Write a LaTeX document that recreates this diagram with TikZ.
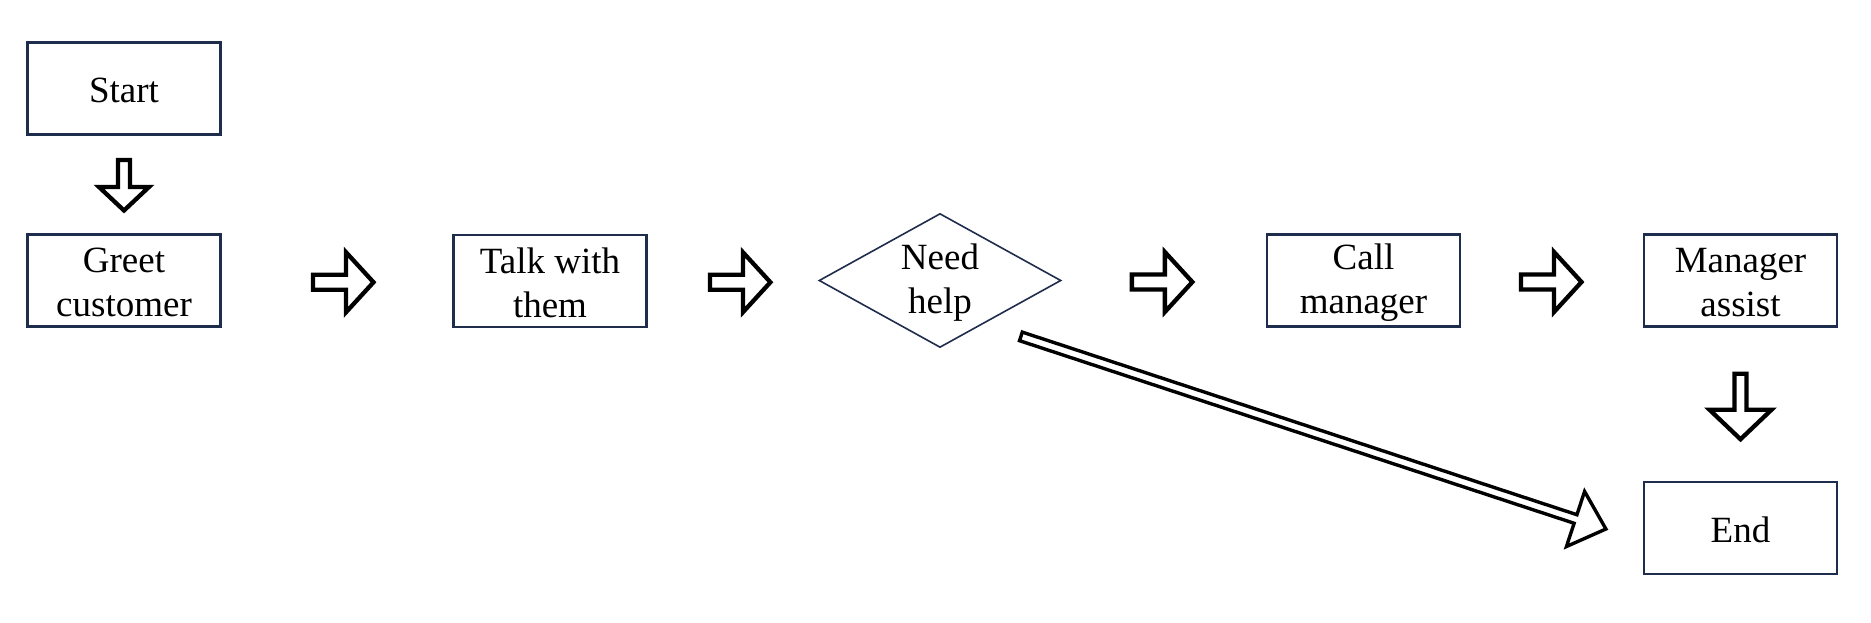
\documentclass[tikz,border=0pt]{standalone}
\usepackage{fontspec}
\setmainfont{Liberation Serif}
\usetikzlibrary{shapes.geometric,calc}
\definecolor{boxline}{HTML}{1F2D4D}
\newcommand\zs{\rule[-2pt]{0pt}{32pt}}
\tikzset{
  stepbox/.style={draw=boxline, line width=2.2pt, minimum width=193pt, minimum height=92pt,
    inner sep=0pt, align=center, font=\fontsize{37}{44}\selectfont, text=black},
  decbox/.style={draw=boxline, line width=1.6pt, diamond, shape aspect=1.8, minimum width=242pt,
    minimum height=134pt, inner sep=0pt, align=center, font=\fontsize{37}{44}\selectfont, text=black},
  blk/.style={draw=black, line width=4.3pt, fill=white, line join=miter, miter limit=10},
  thinblk/.style={draw=black, line width=3.4pt, fill=white, line join=miter, miter limit=10},
}
\begin{document}
\begin{tikzpicture}[x=1pt,y=-1pt]
\useasboundingbox[fill=white] (0,0) rectangle (1871,623);

\node[stepbox] (start) at (124,88.5) {\zs Start};
\node[stepbox] (greet) at (124,280.5) {\zs Greet\\\zs customer};
\node[stepbox] (talk) at (550,281) {\zs Talk with\\\zs them};
\node[decbox] (need) at (940,280.5) {\zs Need\\\zs help};
\node[stepbox] (call) at (1363.5,280.5) {\zs Call\\\zs manager};
\node[stepbox] (mgr) at (1740.5,280.5) {\zs Manager\\\zs assist};
\node[stepbox] (end) at (1740.5,528) {\zs End};

% right block arrows
\coordinate (a1) at ($(greet.east)!0.5!(talk.west)+(7,1.5)$);
\coordinate (a2) at ($(talk.east)!0.5!(need.west)+(8,1.5)$);
\coordinate (a3) at ($(need.east)!0.5!(call.west)+(-1,1.5)$);
\coordinate (a4) at ($(call.east)!0.5!(mgr.west)+(0,1.5)$);
\foreach \c in {a1,a2,a3,a4}{
  \draw[blk, shift={(\c)}] (-31,-7.5) -- (2,-7.5) -- (2,-30) -- (29.5,0) -- (2,30) -- (2,7.5) -- (-31,7.5) -- cycle;
}

% down block arrows
\coordinate (d1) at ($(start.south)!0.5!(greet.north)$);
\draw[blk, shift={(d1)}] (-6,-24.5) -- (6,-24.5) -- (6,2.5) -- (25,2.5) -- (0,26) -- (-25,2.5) -- (-6,2.5) -- cycle;
\coordinate (d2) at ($(mgr.south)!0.5!(end.north)+(0,2)$);
\draw[blk, shift={(d2)}] (-6,-32.5) -- (6,-32.5) -- (6,3.5) -- (31,3.5) -- (0,33) -- (-31,3.5) -- (-6,3.5) -- cycle;

% diagonal arrow from need to end
\coordinate (ds) at ($(need.south east)+(20,22)$);
\coordinate (de) at ($(end.west)+(-37,1)$);
\coordinate (hb) at ($(de)!32pt!(ds)$);
\draw[thinblk]
  ($(ds)!4.5pt!90:(de)$) --
  ($(hb)!4.5pt!-90:(ds)$) --
  ($(hb)!29pt!-90:(ds)$) --
  (de) --
  ($(hb)!29pt!90:(ds)$) --
  ($(hb)!4.5pt!90:(ds)$) --
  ($(ds)!4.5pt!-90:(de)$) -- cycle;
\end{tikzpicture}
\end{document}
